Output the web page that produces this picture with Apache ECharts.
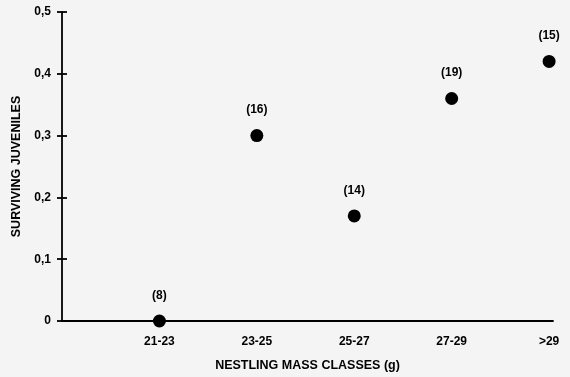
<!DOCTYPE html>
<html><head><meta charset="utf-8">
<script src="https://cdn.jsdelivr.net/npm/echarts@6/dist/echarts.min.js"></script>
<style>html,body{margin:0;padding:0;background:#f4f4f4}#c{width:570px;height:377px}</style>
</head><body><div id="c"></div>
<script>
const categories = ['21-23','23-25','25-27','27-29','>29'];
const survival = [0, 0.30, 0.17, 0.36, 0.42];
const sampleSizes = ['(8)','(16)','(14)','(19)','(15)'];
const yTicks = [0, 0.1, 0.2, 0.3, 0.4, 0.5];

const font = '"Liberation Sans", Arial, sans-serif';
const chart = echarts.init(document.getElementById('c'));
const data = survival.map((v, i) => [i + 1, v]);
chart.setOption({
  backgroundColor: '#f4f4f4',
  animation: false,
  grid: { left: 62, right: 17, top: 12, bottom: 55 },
  xAxis: {
    type: 'value', min: 0, max: 5.04, interval: 1,
    axisLine: { show: true, lineStyle: { color: '#000', width: 1.8 } },
    axisTick: { show: false },
    splitLine: { show: false },
    axisLabel: {
      fontFamily: font, fontWeight: 'bold', fontSize: 12, color: '#000', margin: 15,
      formatter: v => (v >= 1 && v <= categories.length && Number.isInteger(v)) ? categories[v - 1] : ''
    },
    name: 'NESTLING MASS CLASSES (g)', nameLocation: 'middle', nameGap: 38,
    nameTextStyle: { fontFamily: font, fontWeight: 'bold', fontSize: 12.5, color: '#000' }
  },
  yAxis: [{
    type: 'value', min: 0, max: 0.5, interval: 0.1,
    axisLine: { show: true, lineStyle: { color: '#000', width: 1.8 } },
    axisTick: { show: true, length: 5, lineStyle: { color: '#000', width: 1.8 } },
    splitLine: { show: false },
    axisLabel: {
      fontFamily: font, fontWeight: 'bold', fontSize: 12, color: '#000', margin: 11,
      formatter: v => v === 0 ? '0' : v.toFixed(1).replace('.', ',')
    },
    name: 'SURVIVING JUVENILES', nameLocation: 'middle', nameGap: 35, nameRotate: 90,
    nameTextStyle: { fontFamily: font, fontWeight: 'bold', fontSize: 12.5, color: '#000' }
  }, {
    type: 'value', min: 0, max: 0.5, interval: 0.1, position: 'left', offset: 0,
    axisLine: { show: false },
    axisTick: { show: true, inside: true, length: 5, lineStyle: { color: '#000', width: 1.8 } },
    splitLine: { show: false },
    axisLabel: { show: false }
  }],
  series: [{
    type: 'scatter',
    data: data,
    symbolSize: 13,
    itemStyle: { color: '#000', opacity: 1 },
    label: {
      show: true, position: 'top', distance: 13,
      fontFamily: font, fontWeight: 'bold', fontSize: 12, color: '#000',
      formatter: p => sampleSizes[p.dataIndex]
    }
  }]
});
</script></body></html>
